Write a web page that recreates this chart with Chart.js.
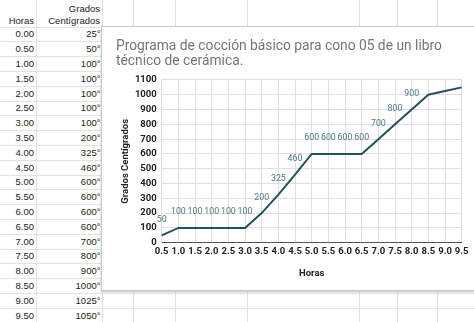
<!DOCTYPE html>
<html>
<head>
<meta charset="utf-8">
<script src="https://cdn.jsdelivr.net/npm/chart.js@4"></script>
<style>
  body { margin: 0; width: 474px; height: 322px; overflow: hidden; background: #fff; position: relative; font-family: "Liberation Sans", Arial, sans-serif; }
  .linea { position: absolute; background: #e2e2e2; }
  .celda { position: absolute; font-size: 9.5px; color: #222; text-align: right; line-height: 11px; white-space: nowrap; }
  #caja { position: absolute; left: 101px; top: 26px; width: 380px; height: 263px; border: 1px solid #c9c9c9; background: #fff; box-shadow: 0 1px 2px rgba(0,0,0,0.25); }
  #grafico { position: absolute; left: 0; top: 0; }
</style>
</head>
<body>
<div id="hoja"></div>
<div id="caja"><canvas id="grafico" width="372" height="263"></canvas></div>
<script>
// datos de la tabla (los mismos que usa el gráfico)
const horas = [0, 0.5, 1, 1.5, 2, 2.5, 3, 3.5, 4, 4.5, 5, 5.5, 6, 6.5, 7, 7.5, 8, 8.5, 9, 9.5];
const grados = [25, 50, 100, 100, 100, 100, 100, 200, 325, 460, 600, 600, 600, 600, 700, 800, 900, 1000, 1025, 1050];
const tituloLineas = ["Programa de cocción básico para cono 05 de un libro", "técnico de cerámica."];
const ticksY = [0, 1100, 100]; // min, max, paso
const etiquetasHasta = 16; // google sheets no muestra las últimas tres

// ---- la hoja de cálculo de fondo ----
const hoja = document.getElementById('hoja');
const columnas = [36, 102, 133, 175, 247, 359, 397, 437];
const filaTop = 26.5, filaAlto = 14.8;

columnas.forEach(x => {
    const d = document.createElement('div');
    d.className = 'linea';
    d.style.cssText = `left:${x}px;top:0;width:1px;height:322px`;
    hoja.appendChild(d);
});
for (let k = 0; k <= 21; k++) {
    const d = document.createElement('div');
    d.className = 'linea';
    d.style.cssText = `left:0;top:${filaTop + k * filaAlto}px;width:474px;height:1px`;
    hoja.appendChild(d);
}

const celda = (texto, derecha, centroY) => {
    const d = document.createElement('div');
    d.className = 'celda';
    d.textContent = texto;
    d.style.right = (474 - derecha) + 'px';
    d.style.top = (centroY - 5.5) + 'px';
    hoja.appendChild(d);
};
celda('Horas', 34, 20);
celda('Grados', 100, 8.5);
celda('Centígrados', 100, 20);
horas.forEach((h, i) => {
    const cy = filaTop + i * filaAlto + filaAlto / 2;
    celda(h.toFixed(2), 34, cy);
    celda(grados[i] + '°', 100.5, cy);
});

// ---- el gráfico: empieza en 0.5 h ----
const etiquetasX = horas.slice(1).map(h => h.toFixed(1));
const valores = grados.slice(1);

// etiquetas encima de cada punto
const etiquetasDatos = {
    id: 'etiquetasDatos',
    afterDatasetsDraw(chart) {
        const ctx = chart.ctx;
        const meta = chart.getDatasetMeta(0);
        ctx.save();
        ctx.font = '8.8px Roboto';
        ctx.fillStyle = '#4d7b84';
        ctx.textAlign = 'center';
        ctx.textBaseline = 'middle';
        meta.data.forEach((p, i) => {
            if (i >= etiquetasHasta) return;
            ctx.fillText(valores[i], p.x, p.y - 15.7);
        });
        ctx.restore();
    }
};

const gris = '#e0e0e0';
new Chart(document.getElementById('grafico').getContext('2d'), {
    type: 'line',
    data: {
        labels: etiquetasX,
        datasets: [{
            data: valores,
            borderColor: '#24525c',
            borderWidth: 2,
            pointRadius: 0,
            tension: 0,
            fill: false
        }]
    },
    options: {
        responsive: false,
        animation: false,
        layout: { padding: { left: 14, right: 12.3, top: 0, bottom: 0 } },
        plugins: {
            legend: { display: false },
            tooltip: { enabled: false },
            title: {
                display: true,
                text: tituloLineas,
                align: 'start',
                color: '#757575',
                font: { family: 'Roboto', size: 13.8, weight: 'normal', lineHeight: 1.09 },
                padding: { top: 12, bottom: 10.9 }
            }
        },
        scales: {
            x: {
                offset: false,
                grid: { color: gris, drawTicks: false },
                border: { color: '#555' },
                ticks: { color: '#222', font: { family: 'Roboto', size: 9.5, weight: 'bold' }, padding: 3, maxRotation: 0, autoSkip: false },
                title: { display: true, text: 'Horas', color: '#222', font: { family: 'Roboto', size: 9.5, weight: 'bold' }, padding: { top: 0, bottom: 10.7 } },
                afterFit: s => { s.height = 47.3; }
            },
            y: {
                min: ticksY[0],
                max: ticksY[1],
                grid: { color: gris, drawTicks: false },
                border: { color: gris },
                ticks: { stepSize: ticksY[2], color: '#222', font: { family: 'Roboto', size: 9.5, weight: 'bold' }, padding: 5, callback: v => String(v) },
                title: { display: true, text: 'Grados Centígrados', color: '#222', font: { family: 'Roboto', size: 9.5, weight: 'bold' }, padding: { top: 4, bottom: 0 } },
                afterFit: s => { s.width = 45.7; }
            }
        }
    },
    plugins: [etiquetasDatos]
});
</script>
</body>
</html>
